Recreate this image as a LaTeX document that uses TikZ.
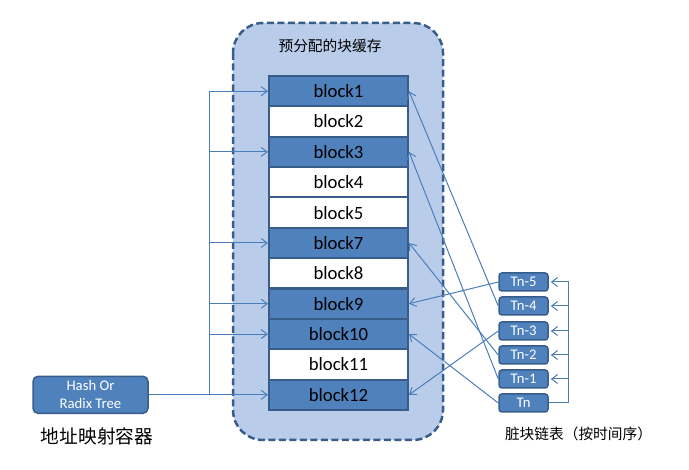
\documentclass[tikz,border=0pt]{standalone}
\usepackage{fontspec}
\setmainfont{Carlito}
\newfontfamily\cjk{Noto Sans CJK SC}
\usetikzlibrary{arrows.meta}
\definecolor{blkblue}{RGB}{79,129,189}
\definecolor{blkedge}{RGB}{56,93,138}
\definecolor{cachefill}{RGB}{185,205,234}
\definecolor{conncol}{RGB}{74,126,187}
\tikzset{
  blk/.style={draw=blkedge, line width=2pt, minimum width=139pt, minimum height=30.36pt, inner sep=0pt, font=\fontsize{18.7}{20}\selectfont, text=black},
  blkdark/.style={blk, fill=blkblue},
  blklight/.style={blk, fill=white},
  tnbox/.style={draw=blkedge, line width=1.5pt, fill=blkblue, rounded corners=3pt, minimum width=49pt, minimum height=18pt, inner sep=0pt, text=white, font=\fontsize{14.7}{16}\selectfont},
  conn/.style={draw=conncol, line width=1pt},
  arr/.style={conn, -{Straight Barb[length=6pt,width=9pt]}},
}
\begin{document}
\begin{tikzpicture}[x=1pt,y=-1pt]
\useasboundingbox (0,0) rectangle (689,470);
% cache container
\draw[fill=cachefill, draw=blkedge, line width=2.5pt, dash pattern=on 7pt off 3.5pt, rounded corners=30pt] (233,23) rectangle (443,440);
\node[font=\cjk\fontsize{14.7}{16}\selectfont] (title) at (330,46) {预分配的块缓存};
% blocks
\node[blkdark]  (b1)  at (338.5,91.2)  {block1};
\node[blklight] (b2)  at (338.5,121.5) {block2};
\node[blkdark]  (b3)  at (338.5,151.9) {block3};
\node[blklight] (b4)  at (338.5,182.3) {block4};
\node[blklight] (b5)  at (338.5,212.6) {block5};
\node[blkdark]  (b7)  at (338.5,243.0) {block7};
\node[blklight] (b8)  at (338.5,273.3) {block8};
\node[blkdark]  (b9)  at (338.5,303.7) {block9};
\node[blkdark]  (b10) at (338.5,334.1) {block10};
\node[blklight] (b11) at (338.5,364.4) {block11};
\node[blkdark]  (b12) at (338.5,394.8) {block12};
% hash box
\node[draw=blkedge, line width=1.5pt, fill=blkblue, rounded corners=5pt, minimum width=115pt, minimum height=37pt, inner sep=0pt, text=white, align=center, font=\fontsize{14.7}{18}\selectfont] (hash) at (90.5,394.8) {Hash Or\\Radix Tree};
\node[font=\cjk\fontsize{18.7}{20}\selectfont] (hlabel) at (97,436) {地址映射容器};
% Tn boxes
\node[tnbox] (t5) at (523.5,282) {Tn-5};
\node[tnbox] (t4) at (523.5,306) {Tn-4};
\node[tnbox] (t3) at (523.5,331) {Tn-3};
\node[tnbox] (t2) at (523.5,355) {Tn-2};
\node[tnbox] (t1) at (523.5,379) {Tn-1};
\node[tnbox] (t0) at (523.5,403) {Tn};
\node[font=\cjk\fontsize{14.7}{16}\selectfont] (tlabel) at (578.5,434) {脏块链表（按时间序）};
% left connectors
\coordinate (hj) at (209,394.8);
\draw[conn] (hash.east) -- (hj);
\foreach \b in {b1,b3,b7,b9,b10,b12}{
  \draw[arr] (hj) |- (\b.west);
}
% right bracket
\coordinate (rb) at (568,403);
\draw[conn] (t0.east) -- (rb);
\foreach \t in {t5,t4,t3,t2,t1}{
  \draw[arr, shorten >=2pt] (rb) |- (\t.east);
}
% dirty list to blocks
\draw[arr] (t5.west) -- (b9.east);
\draw[arr] (t4.west) -- (b1.east);
\draw[arr] (t3.west) -- (b12.east);
\draw[arr] (t2.west) -- (b7.east);
\draw[arr] (t1.west) -- (b3.east);
\draw[arr] (t0.west) -- (b10.east);
\end{tikzpicture}
\end{document}
